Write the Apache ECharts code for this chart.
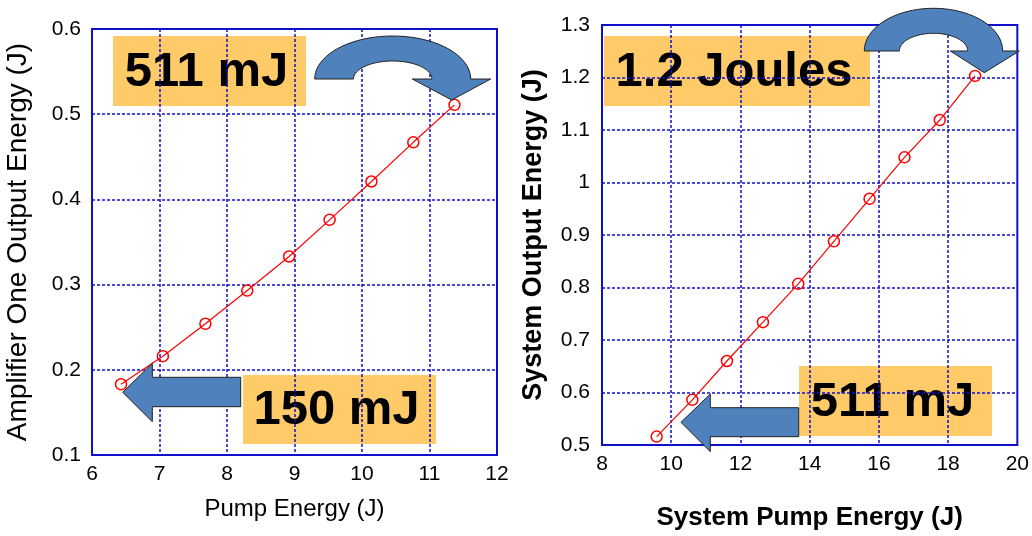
<!DOCTYPE html>
<html>
<head>
<meta charset="utf-8">
<script src="https://cdn.jsdelivr.net/npm/echarts@6/dist/echarts.min.js"></script>
<style>
  html, body { margin: 0; padding: 0; background: #fff; }
  #chart { width: 1032px; height: 536px; }
</style>
</head>
<body>
<div id="chart"></div>
<script>
// amplifier one (left panel)
const ampPump = [6.43, 7.05, 7.68, 8.30, 8.92, 9.52, 10.14, 10.76, 11.37]
const ampOut = [0.183, 0.216, 0.254, 0.293, 0.333, 0.376, 0.421, 0.467, 0.511]

// whole system (right panel)
const sysPump = [9.58, 10.61, 11.61, 12.65, 13.67, 14.70, 15.73, 16.74, 17.76, 18.78]
const sysOut = [0.516, 0.586, 0.660, 0.734, 0.807, 0.888, 0.969, 1.048, 1.119, 1.203]

const callouts = ['511 mJ', '150 mJ', '1.2 Joules', '511 mJ']

const FONT = '"Liberation Sans", Arial, sans-serif'
const BLUE = '#1010cc'
const BOX = '#ffcb69'
const ARROW = '#4f81bd'

function pairs(xs, ys) {
  return xs.map((x, i) => [x, ys[i]])
}

function xAxisOf(gridIndex, min, max, interval, name, bold, size, gap) {
  return {
    type: 'value', gridIndex, min, max, interval,
    name, nameLocation: 'middle', nameGap: gap,
    nameTextStyle: { color: '#000', fontFamily: FONT, fontSize: size, fontWeight: bold ? 'bold' : 'normal' },
    axisLine: { show: true, lineStyle: { color: BLUE, width: 2 } },
    axisTick: { show: false },
    axisLabel: { color: '#000', fontFamily: FONT, fontSize: 21, margin: 9 },
    splitLine: { show: true, showMinLine: false, showMaxLine: false, lineStyle: { color: BLUE, width: 1.5, type: [3, 2] } }
  }
}

function yAxisOf(gridIndex, min, max, name, bold, size, gap, margin) {
  return {
    type: 'value', gridIndex, min, max, interval: 0.1,
    name, nameLocation: 'middle', nameGap: gap,
    nameTextStyle: { color: '#000', fontFamily: FONT, fontSize: size, fontWeight: bold ? 'bold' : 'normal' },
    axisLine: { show: true, lineStyle: { color: BLUE, width: 2 } },
    axisTick: { show: false },
    axisLabel: { color: '#000', fontFamily: FONT, fontSize: 21, margin },
    splitLine: { show: true, showMinLine: false, showMaxLine: false, lineStyle: { color: BLUE, width: 1.5, type: [3, 2] } }
  }
}

function lineSeries(xi, yi, data) {
  return {
    type: 'line', xAxisIndex: xi, yAxisIndex: yi, data,
    symbol: 'circle', symbolSize: 11,
    lineStyle: { color: '#ff0000', width: 1.2 },
    itemStyle: { color: 'rgba(0,0,0,0)', borderColor: '#ff0000', borderWidth: 1.5 },
    z: 3
  }
}

function box(x, y, w, h, text) {
  return {
    type: 'group', z: 20,
    children: [
      { type: 'rect', shape: { x, y, width: w, height: h }, style: { fill: BOX } },
      {
        type: 'text', x: x + w / 2 - 3, y: y + h / 2 + 1,
        style: { text, fill: '#000', font: 'bold 49px ' + FONT, align: 'center', verticalAlign: 'middle' }
      }
    ]
  }
}

function arrowStyle() {
  return { fill: ARROW, stroke: '#222', lineWidth: 1 }
}

// half-ring arrow: outer arc over the top, then head pointing down on the right
function curvedArrow(cx, baseY, rxOut, ryOut, rxIn, ryIn, headL, headR, tip) {
  const pts = []
  const n = 40
  for (let i = 0; i <= n; i++) {
    const a = Math.PI - Math.PI * i / n
    pts.push([cx + rxOut * Math.cos(a), baseY - ryOut * Math.sin(a)])
  }
  pts.push([headR, baseY], tip, [headL, baseY])
  for (let i = 0; i <= n; i++) {
    const a = Math.PI * i / n
    pts.push([cx + rxIn * Math.cos(a), baseY - ryIn * Math.sin(a)])
  }
  return { type: 'polygon', z: 19, shape: { points: pts }, style: arrowStyle() }
}

const chart = echarts.init(document.getElementById('chart'))

chart.setOption({
  backgroundColor: '#fff',
  animation: false,
  grid: [
    { left: 92, top: 29, width: 405, height: 426, show: true, borderColor: BLUE, borderWidth: 2, backgroundColor: '#fff' },
    { left: 602, top: 25, width: 416, height: 423, show: true, borderColor: BLUE, borderWidth: 2, backgroundColor: '#fff' }
  ],
  xAxis: [
    xAxisOf(0, 6, 12, 1, 'Pump Energy (J)', false, 24, 42),
    xAxisOf(1, 8, 20, 2, 'System Pump Energy (J)', true, 26, 60)
  ],
  yAxis: [
    yAxisOf(0, 0.1, 0.6, 'Amplifier One Output Energy (J)', false, 28, 60, 11),
    yAxisOf(1, 0.5, 1.3, 'System Output Energy (J)', true, 27, 55, 12)
  ],
  series: [
    lineSeries(0, 0, pairs(ampPump, ampOut)),
    lineSeries(1, 1, pairs(sysPump, sysOut))
  ],
  graphic: [
    // left panel: curved arrow to final point, straight arrow to first point
    curvedArrow(392.7, 79, 78, 43, 39.2, 18, 412.3, 490.7, [451.7, 100]),
    {
      type: 'polygon', z: 19,
      shape: { points: [[240.7, 377.3], [152.3, 377.3], [152.3, 363.3], [122.7, 392.3], [152.3, 421.7], [152.3, 406.7], [240.7, 406.7]] },
      style: arrowStyle()
    },
    box(113, 36, 193, 70, callouts[0]),
    box(243, 375, 193, 69, callouts[1]),
    // right panel
    curvedArrow(933.5, 51, 69.2, 42.7, 34.2, 17.7, 950.3, 1019.3, [984.3, 72.7]),
    {
      type: 'polygon', z: 19,
      shape: { points: [[798.7, 407.7], [710.3, 407.7], [710.3, 394], [681, 422.3], [710.3, 451.7], [710.3, 436.7], [798.7, 436.7]] },
      style: arrowStyle()
    },
    box(604, 36, 266, 70, callouts[2]),
    box(799, 366, 193, 70, callouts[3])
  ]
})
</script>
</body>
</html>
